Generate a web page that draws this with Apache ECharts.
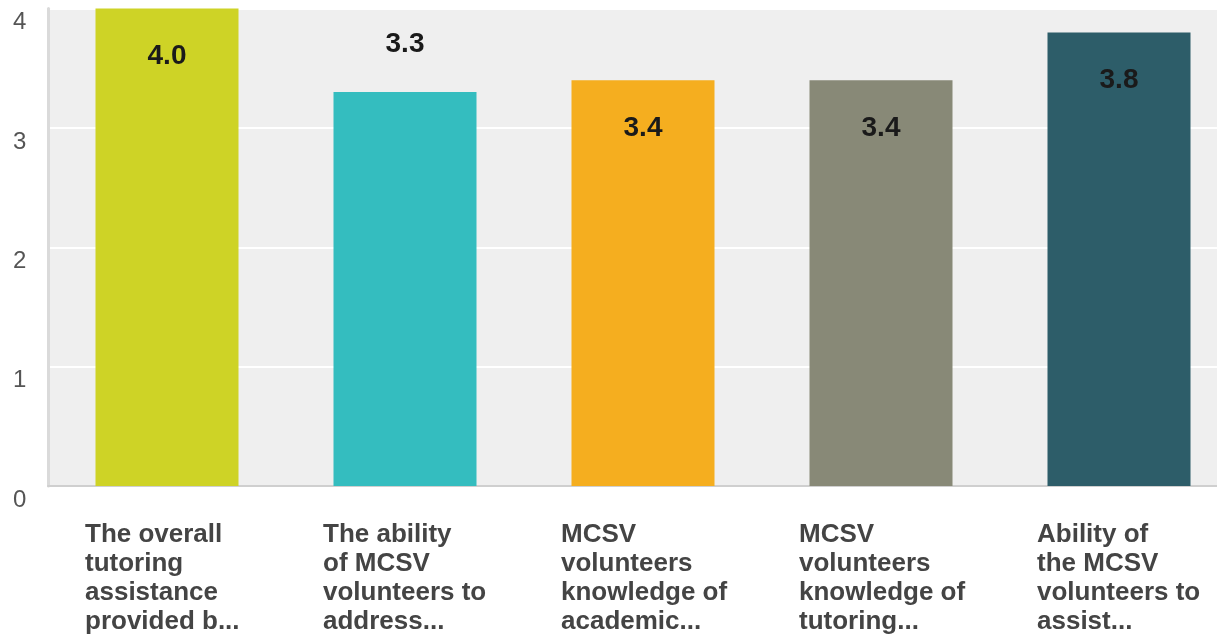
<!DOCTYPE html>
<html>
<head>
<meta charset="utf-8">
<script src="https://cdn.jsdelivr.net/npm/echarts@6/dist/echarts.min.js"></script>
<style>
  html, body { margin: 0; padding: 0; background: #fff; }
  #main { width: 1217px; height: 635px; }
</style>
</head>
<body>
<div id="main"></div>
<script>
const categories = [
  'The overall\ntutoring\nassistance\nprovided b...',
  'The ability\nof MCSV\nvolunteers to\naddress...',
  'MCSV\nvolunteers\nknowledge of\nacademic...',
  'MCSV\nvolunteers\nknowledge of\ntutoring...',
  'Ability of\nthe MCSV\nvolunteers to\nassist...'
];
const scores = [4.0, 3.3, 3.4, 3.4, 3.8];
const colors = ['#ced326', '#34bdbf', '#f5ae1f', '#888977', '#2d5d69'];
const yTicks = { min: 0, max: 4, interval: 1 };

const font = "'Liberation Sans', Arial, Helvetica, sans-serif";

const barData = scores.map((v, i) => {
  const item = { value: v, itemStyle: { color: colors[i] } };
  // second bar shows its label above the bar
  if (i === 1) {
    item.label = { position: 'top', distance: 34 };
  }
  return item;
});

const option = {
  animation: false,
  textStyle: { fontFamily: font },
  grid: {
    left: 48,
    top: 8.5,
    right: -21,
    bottom: 149,
    containLabel: false,
    outerBoundsMode: 'none',
    show: true,
    backgroundColor: '#efefef',
    borderWidth: 0
  },
  xAxis: {
    type: 'category',
    data: categories,
    axisTick: { show: false },
    axisLine: { show: true, lineStyle: { color: '#cfcfcf', width: 2 } },
    axisLabel: {
      interval: 0,
      margin: 34,
      formatter: (val) => val.split('\n').map(s => '{a|' + s + '}').join('\n'),
      rich: {
        a: {
          width: 164,
          align: 'left',
          fontSize: 26,
          lineHeight: 29,
          fontWeight: 'bold',
          color: '#444',
          fontFamily: font
        }
      }
    }
  },
  yAxis: {
    type: 'value',
    min: yTicks.min,
    max: yTicks.max,
    interval: yTicks.interval,
    axisLine: { show: true, lineStyle: { color: '#dadada', width: 3 } },
    axisTick: { show: false },
    splitLine: { lineStyle: { color: '#ffffff', width: 2 } },
    axisLabel: {
      align: 'left',
      verticalAlign: 'top',
      margin: 35,
      fontSize: 24,
      lineHeight: 28,
      color: '#555',
      fontFamily: font
    }
  },
  series: [{
    type: 'bar',
    data: barData,
    barWidth: 143,
    label: {
      show: true,
      position: 'insideTop',
      distance: 34,
      fontSize: 28,
      fontWeight: 'bold',
      color: '#1a1a1a',
      fontFamily: font,
      formatter: (p) => p.value.toFixed(1)
    }
  }]
};

echarts.init(document.getElementById('main')).setOption(option);
</script>
</body>
</html>
